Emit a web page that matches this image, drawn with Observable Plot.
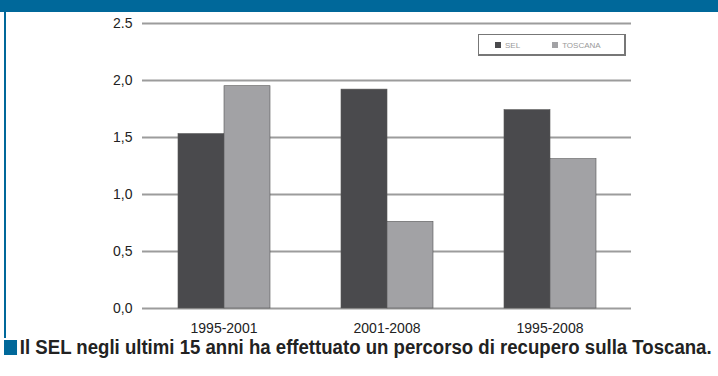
<!DOCTYPE html>
<html>
<head>
<meta charset="utf-8">
<script src="https://cdn.jsdelivr.net/npm/d3@7"></script>
<script src="https://cdn.jsdelivr.net/npm/@observablehq/plot@0.6"></script>
<style>
  html, body { margin: 0; padding: 0; background: #fff; }
  #wrap { position: relative; width: 718px; height: 376px; overflow: hidden; background: #fff;
          font-family: "Liberation Sans", Arial, sans-serif; }
  #topbar { position: absolute; left: 0; top: 0; width: 718px; height: 12px; background: #00689a; }
  #leftbar { position: absolute; left: 4px; top: 0; width: 2px; height: 338px; background: #00689a; }
  #chart { position: absolute; left: 0; top: 0; }
  #legend { position: absolute; left: 478px; top: 34px; width: 148px; height: 22px; box-sizing: border-box;
            border: 1px solid #777; border-right-width: 2px; border-bottom-width: 2px; background: #fff; }
  #caption { position: absolute; left: 4px; top: 336px; white-space: nowrap;
             font-size: 20px; font-weight: bold; color: #222; transform: scaleX(0.93); transform-origin: left top; }
  #caption .sq { display: inline-block; width: 14px; height: 15px; background: #00689a; margin-right: 3px; vertical-align: -1px; }
</style>
</head>
<body>
<div id="wrap">
  <div id="topbar"></div>
  <div id="leftbar"></div>
  <div id="chart"></div>
  <div id="legend"></div>
  <div id="caption"><span class="sq"></span>Il SEL negli ultimi 15 anni ha effettuato un percorso di recupero sulla Toscana.</div>
</div>
<script>
const periods = ["1995-2001", "2001-2008", "1995-2008"];
const series = ["SEL", "TOSCANA"];
const selValues = [1.53, 1.92, 1.74];
const toscanaValues = [1.95, 0.76, 1.31];
const yTicks = [0, 0.5, 1, 1.5, 2, 2.5];
const yTickLabels = ["0,0", "0,5", "1,0", "1,5", "2,0", "2.5"];
const colors = ["#4a4a4d", "#a2a2a5"];

const data = [];
periods.forEach((p, i) => {
  data.push({period: p, series: series[0], value: selValues[i]});
  data.push({period: p, series: series[1], value: toscanaValues[i]});
});

const plot = Plot.plot({
  width: 718,
  height: 340,
  marginLeft: 142,
  marginRight: 87,
  marginTop: 23,
  marginBottom: 32,
  style: {fontFamily: '"Liberation Sans", Arial, sans-serif', fontSize: "14px", color: "#222", background: "transparent"},
  fx: {domain: periods, padding: 0, label: null, axis: null},
  x: {domain: series, paddingInner: 0, paddingOuter: 0.753, axis: null},
  y: {domain: [0, 2.5], axis: null},
  color: {domain: series, range: colors},
  marks: [
    Plot.gridY(yTicks, {stroke: "#9c9c9c", strokeOpacity: 1, strokeWidth: 2}),
    Plot.barY(data, {fx: "period", x: "series", y: "value", fill: "series", stroke: "#555", strokeWidth: 0.6}),
    Plot.axisY(yTicks, {tickSize: 0, tickPadding: 10, fontSize: 14, tickFormat: (d, i) => yTickLabels[i], anchor: "left", label: null}),
    Plot.axisFx({anchor: "bottom", tickSize: 0, tickPadding: 15, fontSize: 14, label: null})
  ]
});
document.getElementById("chart").appendChild(plot);

const leg = plot.legend("color", {swatchSize: 6});
leg.style.fontSize = "8px";
leg.style.color = "#999";
leg.style.margin = "0";
leg.style.minHeight = "0";
leg.style.height = "12px";
leg.style.position = "absolute";
leg.style.left = "16px";
leg.style.top = "4px";
leg.style.fontFamily = '"Liberation Sans", Arial, sans-serif';
document.getElementById("legend").appendChild(leg);
leg.querySelectorAll("span").forEach((s, i) => { if (i > 0) s.style.marginLeft = "24px"; });
</script>
</body>
</html>
